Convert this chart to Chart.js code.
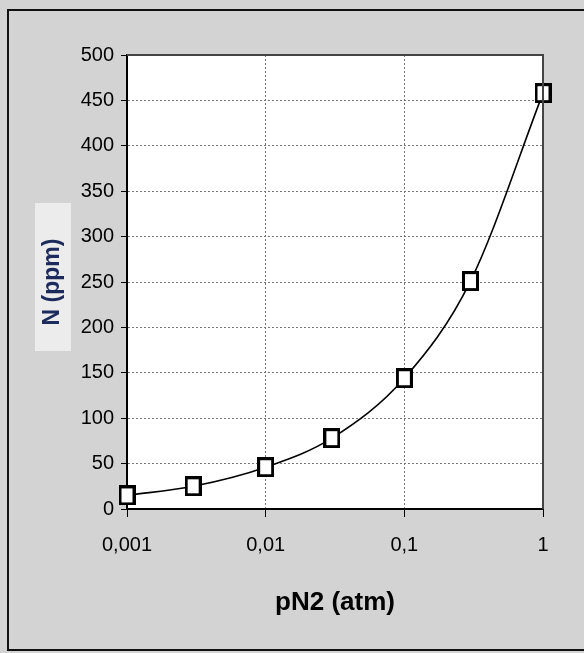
<!DOCTYPE html>
<html lang="fr">
<head>
    <meta charset="UTF-8">
    <title>N (ppm) vs pN2 (atm)</title>
    <style>
        body {
            margin: 0;
            background: #ffffff;
        }
        #chart {
            display: block;
        }
    </style>
</head>
<body>
    <canvas id="chart" width="584" height="653"></canvas>

    <script src="https://cdn.jsdelivr.net/npm/chart.js"></script>
    <script>
        // données
        const pressures = [0.001, 0.003, 0.01, 0.03, 0.1, 0.3, 1];
        const nitrogenPpm = [15, 25, 46, 78, 144, 251, 458];
        const xTickValues = [0.001, 0.01, 0.1, 1];
        const yMin = 0;
        const yMax = 500;
        const yStep = 50;

        const points = pressures.map((p, i) => ({ x: p, y: nitrogenPpm[i] }));

        // marqueur carré un peu plus haut que large (comme sur la figure)
        const marker = document.createElement('canvas');
        marker.width = 17;
        marker.height = 20;
        const mctx = marker.getContext('2d');
        mctx.fillStyle = '#fff';
        mctx.fillRect(0, 0, 17, 20);
        mctx.strokeStyle = '#000';
        mctx.lineWidth = 3;
        mctx.strokeRect(1.5, 1.5, 14, 17);

        // fond gris, cadre, zone de tracé blanche
        const framePlugin = {
            id: 'frame',
            beforeDraw(chart) {
                const ctx = chart.ctx;
                const a = chart.chartArea;
                ctx.save();
                ctx.fillStyle = '#d3d3d3';
                ctx.fillRect(0, 0, chart.width, chart.height);
                ctx.fillStyle = '#ececec';
                ctx.fillRect(35, 203, 36, 148);
                ctx.strokeStyle = '#111';
                ctx.lineWidth = 2;
                ctx.strokeRect(8, 10, chart.width + 10, 640);
                ctx.fillStyle = '#ffffff';
                ctx.fillRect(a.left, a.top, a.right - a.left, a.bottom - a.top);
                ctx.restore();
            },
            afterDatasetsDraw(chart) {
                const ctx = chart.ctx;
                const a = chart.chartArea;
                ctx.save();
                ctx.strokeStyle = '#444';
                ctx.lineWidth = 2;
                ctx.beginPath();
                ctx.moveTo(a.left, a.top);
                ctx.lineTo(a.right, a.top);
                ctx.lineTo(a.right, a.bottom);
                ctx.stroke();
                ctx.restore();
            }
        };

        const ctx = document.getElementById('chart').getContext('2d');
        new Chart(ctx, {
            type: 'scatter',
            data: {
                datasets: [{
                    data: points,
                    showLine: true,
                    borderColor: '#000',
                    borderWidth: 1.6,
                    cubicInterpolationMode: 'monotone',
                    pointStyle: marker,
                    pointRadius: 10,
                    clip: false
                }]
            },
            options: {
                responsive: false,
                animation: false,
                layout: { padding: { top: 55, right: 41, left: 0, bottom: 0 } },
                plugins: {
                    legend: { display: false },
                    tooltip: { enabled: false }
                },
                scales: {
                    x: {
                        type: 'logarithmic',
                        min: 0.001,
                        max: 1,
                        afterBuildTicks: (scale) => {
                            scale.ticks = xTickValues.map(v => ({ value: v, major: true }));
                        },
                        afterFit: (scale) => { scale.height = 144; },
                        ticks: {
                            autoSkip: false,
                            maxRotation: 0,
                            padding: 16,
                            color: '#000',
                            font: { family: 'Liberation Sans', size: 20 },
                            callback: (v) => String(v).replace('.', ',')
                        },
                        grid: { color: '#777', tickColor: '#000', tickLength: 8, lineWidth: 1 },
                        border: { color: '#000', width: 2, dash: [2, 2] },
                        title: {
                            display: true,
                            text: 'pN2 (atm)',
                            color: '#000',
                            font: { family: 'Liberation Sans', size: 26, weight: 'bold' },
                            padding: { top: 0, bottom: 35 }
                        }
                    },
                    y: {
                        min: yMin,
                        max: yMax,
                        afterFit: (scale) => { scale.width = 127; },
                        ticks: {
                            stepSize: yStep,
                            padding: 7,
                            color: '#000',
                            font: { family: 'Liberation Sans', size: 20 }
                        },
                        grid: { color: '#777', tickColor: '#000', tickLength: 6, lineWidth: 1 },
                        border: { color: '#000', width: 2, dash: [2, 2] },
                        title: {
                            display: true,
                            text: 'N (ppm)',
                            color: '#1c2a5c',
                            font: { family: 'Liberation Sans', size: 23, weight: 'bold' },
                            padding: { top: 39, bottom: 0 }
                        }
                    }
                }
            },
            plugins: [framePlugin]
        });
    </script>
</body>
</html>
